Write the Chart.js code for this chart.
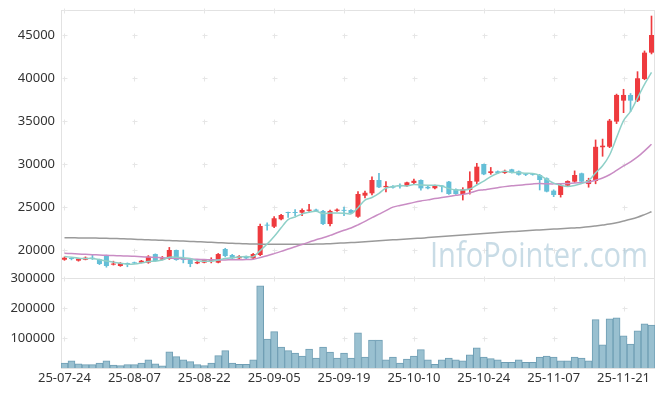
<!DOCTYPE html>
<html lang="ko">
<head>
<meta charset="UTF-8">
<title>Stock chart</title>
<script src="https://cdn.jsdelivr.net/npm/chart.js"></script>
<style>
  body { margin: 0; background: #fff; }
  #wrap { width: 665px; height: 396px; }
</style>
</head>
<body>
<div id="wrap"><canvas id="stockChart" width="665" height="396"></canvas></div>
<script>
// trading days (yy-mm-dd)
const dates = [
  '25-07-24','25-07-25','25-07-28','25-07-29','25-07-30','25-07-31',
  '25-08-01','25-08-04','25-08-05','25-08-06','25-08-07','25-08-08','25-08-11','25-08-12','25-08-13','25-08-14',
  '25-08-18','25-08-19','25-08-20','25-08-21','25-08-22','25-08-25','25-08-26','25-08-27','25-08-28','25-08-29',
  '25-09-01','25-09-02','25-09-03','25-09-04','25-09-05','25-09-08','25-09-09','25-09-10','25-09-11','25-09-12',
  '25-09-15','25-09-16','25-09-17','25-09-18','25-09-19','25-09-22','25-09-23','25-09-24','25-09-25','25-09-26',
  '25-09-29','25-09-30','25-10-01','25-10-02','25-10-10','25-10-13','25-10-14','25-10-15','25-10-16','25-10-17',
  '25-10-20','25-10-21','25-10-22','25-10-23','25-10-24','25-10-27','25-10-28','25-10-29','25-10-30','25-10-31',
  '25-11-03','25-11-04','25-11-05','25-11-06','25-11-07','25-11-10','25-11-11','25-11-12','25-11-13','25-11-14',
  '25-11-17','25-11-18','25-11-19','25-11-20','25-11-21','25-11-24','25-11-25','25-11-26','25-11-27'
];

const openP = [
  18870,18980,18760,18870,19100,18920,19340,18300,18140,18450,
  18520,18530,18530,19530,18880,18950,20000,18950,18900,18450,
  18530,18700,18530,20120,19420,19030,19270,19030,19420,22900,
  22710,23570,24350,24350,24340,24550,24700,24540,23020,24550,
  24600,24650,23870,26320,26590,28140,27300,27450,27550,27440,
  27800,28140,27350,27180,27400,27950,27060,26480,26980,27950,
  30000,28950,29150,28950,29380,29150,28800,28800,28720,28340,
  26900,26400,27480,27950,28920,27670,28020,31950,32010,34930,
  37370,38030,37370,39890,42950
];
const closeP = [
  19100,18950,18990,19100,18940,18370,18140,18400,18480,18370,
  18450,18750,19220,18720,19030,20000,18840,18850,18370,18600,
  18840,18800,19530,19300,19030,19270,19030,19530,22790,22830,
  23690,24070,24300,24300,24650,24700,24550,23020,24540,24700,
  24550,24300,26510,26660,28140,27290,27450,27250,27400,27870,
  28050,27170,27170,27450,27380,26510,26510,27060,28020,29690,
  28800,29150,28950,29200,28990,28750,28750,28750,28140,26790,
  26400,27560,28020,28720,27950,28140,32000,32130,35040,38030,
  38030,37370,39970,42950,45000
];
const highP = [
  19200,19050,19050,19200,19400,18950,19400,18700,18550,18500,
  18600,18800,19350,19550,19250,20300,20000,20000,18950,18700,
  18900,19100,19600,20200,19500,19350,19300,19600,23000,23150,
  23900,24150,24400,24700,24800,25300,24750,24600,24650,24800,
  25000,24700,26800,26850,28500,28920,27950,27500,27700,27900,
  28250,28150,27400,27550,27500,28000,27100,27250,29100,30080,
  30000,29600,29200,29300,29400,29200,28900,28850,28800,28400,
  27000,27700,28050,29200,28950,28350,32800,32900,35200,38130,
  38690,38200,40740,43150,47210
];
const lowP = [
  18800,18850,18700,18850,18900,18300,18000,18250,18100,18050,
  18400,18500,18450,18700,18850,18900,18800,18500,18050,18400,
  18500,18500,18500,19200,18950,19000,19000,18980,19350,22300,
  22600,23500,23800,24000,24000,24500,24500,22950,22800,24500,
  24000,24250,23800,26050,26400,27250,26750,27200,27200,27400,
  27700,26950,27100,27100,26750,26450,26450,25810,26500,27700,
  28750,28800,28900,28900,28950,28700,28650,28700,26980,26750,
  26200,26150,27400,27850,27900,27300,27700,30900,31900,34700,
  35970,36080,37250,39800,42800
];
const volume = [
  16700,24000,14000,11000,11000,16700,24000,10000,8000,11000,
  11000,16700,27000,14000,7000,54000,38000,27000,21000,11000,
  8000,16700,41000,58000,16700,12500,12500,27000,274000,96700,
  121000,70000,58000,50000,40000,63000,33000,70000,53000,33000,
  50000,33000,117000,36700,93000,93000,27000,36700,16700,30000,
  40000,61000,27000,12500,27000,33000,27000,24000,44000,67000,
  36700,31000,27000,19000,19000,27000,19000,19000,36700,40000,
  36700,24000,24000,36700,33000,24000,161000,77000,164000,167000,
  107000,80000,124000,147000,143000
];

// moving averages
const ma5 = [
  19250,19150,19050,19020,19020,18870,18710,18590,18470,18350,
  18370,18490,18650,18700,18830,19150,19160,19090,19020,18740,
  18700,18690,18830,19010,19100,19190,19230,19230,19930,20690,
  21570,22580,23540,23840,24200,24400,24500,24240,24290,24300,
  24270,24220,24920,25800,26100,26580,27210,27360,27500,27450,
  27610,27550,27530,27540,27440,27140,26990,26980,27100,27560,
  28020,28540,28920,29160,29020,29010,28930,28890,28680,28230,
  27770,27530,27380,27500,27730,28080,28970,29790,31050,33070,
  35050,36120,37690,39270,40660
];
const ma20 = [
  19610,19580,19540,19500,19460,19420,19380,19350,19320,19300,
  19260,19220,19180,19140,19100,19060,19020,18980,18950,18920,
  18890,18860,18840,18850,18860,18870,18890,18920,19120,19330,
  19580,19840,20120,20380,20640,20920,21200,21420,21700,22000,
  22290,22560,22930,23320,23770,24170,24570,24990,25180,25360,
  25540,25700,25830,25980,26110,26230,26360,26470,26640,26890,
  27000,27130,27250,27370,27460,27530,27610,27680,27730,27700,
  27690,27710,27740,27790,27830,27880,28120,28370,28750,29260,
  29770,30260,30830,31530,32290
];
const ma60 = [
  21430,21420,21410,21400,21390,21380,21360,21340,21310,21280,
  21250,21220,21190,21160,21130,21100,21070,21040,21000,20970,
  20930,20890,20850,20810,20780,20750,20720,20700,20680,20660,
  20660,20660,20660,20660,20660,20670,20690,20710,20740,20780,
  20820,20860,20910,20960,21010,21070,21120,21180,21230,21280,
  21330,21380,21440,21500,21560,21620,21680,21740,21800,21870,
  21930,21990,22040,22090,22140,22190,22240,22290,22340,22390,
  22430,22470,22520,22570,22620,22690,22790,22900,23020,23180,
  23370,23570,23810,24120,24450
];

const priceTicks = [20000, 25000, 30000, 35000, 40000, 45000];
const volTicks = [100000, 200000, 300000];

const upColor = '#ee3a3e';
const downColor = '#64bfd7';
const candleColors = openP.map((o, i) => closeP[i] >= o ? upColor : downColor);
const tickFont = { family: '"Noto Sans", sans-serif', size: 13 };

// frame, little "+" grid marks and the watermark
const framePlugin = {
  id: 'frame',
  beforeDatasetsDraw(chart) {
    const ctx = chart.ctx;
    const a = chart.chartArea;
    const x = chart.scales.x, price = chart.scales.price, vol = chart.scales.vol;
    ctx.save();
    ctx.strokeStyle = '#e2e2e2';
    ctx.lineWidth = 1;
    ctx.beginPath();
    ctx.moveTo(Math.round(a.left) + 0.5, a.top);
    ctx.lineTo(Math.round(a.left) + 0.5, a.bottom);
    ctx.moveTo(Math.round(a.right) - 0.5, a.top);
    ctx.lineTo(Math.round(a.right) - 0.5, a.bottom);
    ctx.moveTo(a.left, Math.round(a.top) + 0.5);
    ctx.lineTo(a.right, Math.round(a.top) + 0.5);
    ctx.moveTo(a.left, Math.round(vol.top) + 0.5);
    ctx.lineTo(a.right, Math.round(vol.top) + 0.5);
    ctx.moveTo(a.left, Math.round(a.bottom) + 0.5);
    ctx.lineTo(a.right, Math.round(a.bottom) + 0.5);
    ctx.stroke();

    ctx.strokeStyle = '#e6e6e6';
    ctx.beginPath();
    const ys = priceTicks.map(v => price.getPixelForValue(v))
      .concat(volTicks.map(v => vol.getPixelForValue(v)))
      .concat([a.top]);
    for (let i = 0; i < dates.length; i += 10) {
      const px = Math.round(x.getPixelForValue(i)) + 0.5;
      ys.forEach(yv => {
        const py = Math.round(yv) + 0.5;
        ctx.moveTo(px - 2, py); ctx.lineTo(px + 3, py);
        ctx.moveTo(px, py - 2); ctx.lineTo(px, py + 3);
      });
    }
    ctx.stroke();

    // watermark
    ctx.font = '34px "Open Sans", sans-serif';
    ctx.fillStyle = 'rgba(165,196,214,0.6)';
    ctx.textBaseline = 'alphabetic';
    const txt = 'InfoPointer.com';
    const w = ctx.measureText(txt).width;
    ctx.translate(430, 267);
    ctx.scale(218 / w, 1);
    ctx.fillText(txt, 0, 0);
    ctx.restore();
  }
};

const noPad = s => { s.paddingTop = 0; s.paddingBottom = 0; };

const ctx = document.getElementById('stockChart').getContext('2d');
const stockChart = new Chart(ctx, {
  data: {
    labels: dates,
    datasets: [
      { type: 'line', label: 'MA5', data: ma5, yAxisID: 'price', borderColor: '#8fd0c8', borderWidth: 1.5, pointRadius: 0, tension: 0.3, order: 1 },
      { type: 'line', label: 'MA20', data: ma20, yAxisID: 'price', borderColor: '#c98cc4', borderWidth: 1.5, pointRadius: 0, tension: 0.3, order: 1 },
      { type: 'line', label: 'MA60', data: ma60, yAxisID: 'price', borderColor: '#9a9a9a', borderWidth: 1.5, pointRadius: 0, tension: 0.3, order: 1 },
      { type: 'bar', label: 'body', data: openP.map((o, i) => [o, closeP[i]]), yAxisID: 'price',
        backgroundColor: candleColors, barPercentage: 0.72, categoryPercentage: 1, grouped: false, minBarLength: 1, order: 3 },
      { type: 'bar', label: 'wick', data: lowP.map((l, i) => [l, highP[i]]), yAxisID: 'price',
        backgroundColor: candleColors, barThickness: 1, grouped: false, order: 4 },
      { type: 'bar', label: 'volume', data: volume, yAxisID: 'vol',
        backgroundColor: '#99c0d0', borderColor: '#6f9eb4', borderWidth: 1,
        barPercentage: 1, categoryPercentage: 1, grouped: false, order: 5 }
    ]
  },
  options: {
    responsive: false,
    animation: false,
    layout: { padding: { top: 10, right: 10, left: 0, bottom: 0 } },
    plugins: { legend: { display: false }, tooltip: { enabled: false } },
    scales: {
      x: {
        offset: true,
        grid: { display: false, drawTicks: false },
        border: { display: false },
        ticks: {
          autoSkip: false, maxRotation: 0, color: '#333', font: tickFont, padding: 2,
          callback: (v, i) => i % 10 === 0 ? dates[i] : ''
        },
        afterFit: s => { s.height = 28; s.paddingLeft = 0; s.paddingRight = 0; }
      },
      vol: {
        position: 'left', stack: 'main', stackWeight: 90,
        min: 0, max: 300000,
        grid: { display: false, drawTicks: false }, border: { display: false },
        ticks: { color: '#333', font: tickFont, padding: 6, callback: v => String(v) },
        afterBuildTicks: s => { s.ticks = volTicks.map(v => ({ value: v })); },
        afterFit: s => { s.width = 61; noPad(s); }
      },
      price: {
        position: 'left', stack: 'main', stackWeight: 268,
        min: 16744, max: 47910,
        grid: { display: false, drawTicks: false }, border: { display: false },
        ticks: { color: '#333', font: tickFont, padding: 6, callback: v => String(v) },
        afterBuildTicks: s => { s.ticks = priceTicks.map(v => ({ value: v })); },
        afterFit: s => { s.width = 61; noPad(s); }
      }
    }
  },
  plugins: [framePlugin]
});
</script>
</body>
</html>
